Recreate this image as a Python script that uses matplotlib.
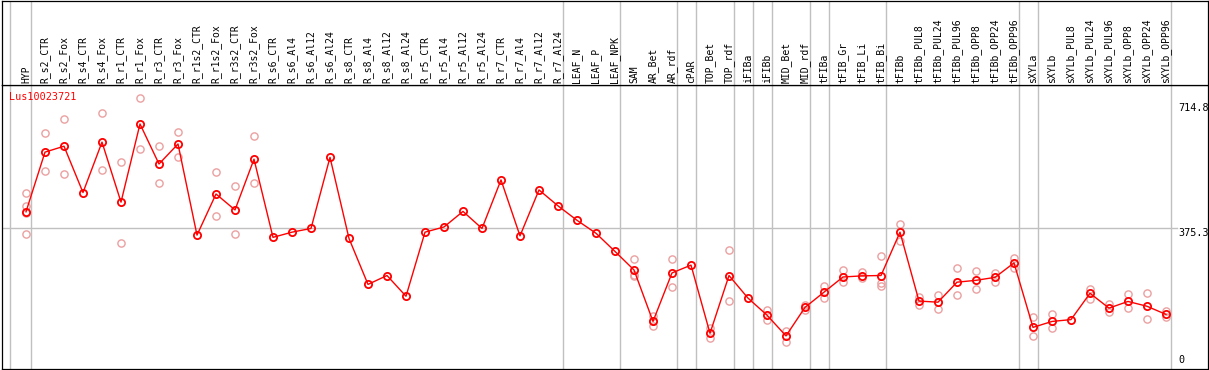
import matplotlib.pyplot as plt

# Sample names (top labels), one column each.
categories = [
    "HYP", "R_s2_CTR", "R_s2_Fox", "R_s4_CTR", "R_s4_Fox", "R_r1_CTR", "R_r1_Fox",
    "R_r3_CTR", "R_r3_Fox", "R_r1s2_CTR", "R_r1s2_Fox", "R_r3s2_CTR", "R_r3s2_Fox",
    "R_s6_CTR", "R_s6_Al4", "R_s6_Al12", "R_s6_Al24", "R_s8_CTR", "R_s8_Al4",
    "R_s8_Al12", "R_s8_Al24", "R_r5_CTR", "R_r5_Al4", "R_r5_Al12", "R_r5_Al24",
    "R_r7_CTR", "R_r7_Al4", "R_r7_Al12", "R_r7_Al24", "LEAF_N", "LEAF_P", "LEAF_NPK",
    "SAM", "AR_Bet", "AR_rdf", "cPAR", "TOP_Bet", "TOP_rdf", "iFIBa", "iFIBb",
    "MID_Bet", "MID_rdf", "tFIBa", "tFIB_Gr", "tFIB_Li", "tFIB_Bi", "tFIBb",
    "tFIBb_PUL8", "tFIBb_PUL24", "tFIBb_PUL96", "tFIBb_OPP8", "tFIBb_OPP24",
    "tFIBb_OPP96", "sXYLa", "sXYLb", "sXYLb_PUL8", "sXYLb_PUL24", "sXYLb_PUL96",
    "sXYLb_OPP8", "sXYLb_OPP24", "sXYLb_OPP96",
]

# Mean expression per sample.
means = [
    420, 581, 597, 472, 608, 446, 657, 549, 603, 357, 468, 425, 562,
    351, 365, 375, 567, 348, 224, 248, 192, 365, 379, 421, 375,
    506, 355, 479, 436, 397, 362, 313,
    263, 124, 255, 276, 92, 248, 187, 141, 85, 162, 203, 244, 247, 248, 365,
    179, 176, 230, 235, 243, 282, 108, 124, 129, 200, 160, 178, 165, 143,
]

# Individual replicates (empty where they sit under the mean marker).
reps = [
    [472, 436, 416, 360], [632, 530], [670, 521], [], [687, 532], [554, 335],
    [726, 589], [597, 497], [635, 567], [], [527, 409], [489, 360], [624, 497],
    [], [], [], [], [], [], [], [], [], [], [], [],
    [], [], [], [], [], [], [],
    [292, 250, 247], [140, 112, 124], [292, 216], [], [106, 78], [317, 178], [],
    [154, 128], [98, 69], [168, 156], [220, 187], [262, 231], [257, 242],
    [301, 227, 220], [387, 340],
    [189, 168], [195, 158], [268, 195], [260, 212], [256, 230], [295, 268],
    [135, 85], [144, 106], [], [212, 185], [172, 149], [197, 160], [201, 131], [152, 136],
]

# Grey separators are drawn just after these sample indices.
group_ends = [-1.09, 0, 28, 31, 34, 35, 37, 38, 39, 41, 42, 45, 52, 53, 60]

y_ticks = [0, 375.3, 714.8]
gene = "Lus10023721"

W, H = 1209, 370
fig = plt.figure(figsize=(W / 100, H / 100), dpi=100)

# plot area in pixels
left, right, top, bottom = 1.5, 1207.5, 85, 368.5
ax = fig.add_axes([left / W, (H - bottom) / H, (right - left) / W, (bottom - top) / H])
hd = fig.add_axes([left / W, (H - top) / H, (right - left) / W, (top - 0.5) / H])

xlim = ((left - 26) / 19, (right - 26) / 19)
for a in (ax, hd):
    a.set_xlim(*xlim)
    a.set_xticks([])
    a.set_yticks([])
    for s in a.spines.values():
        s.set_color("black")
        s.set_linewidth(0.9)
    for g in group_ends:
        a.axvline(g + 0.25, color="#c0c0c0", lw=1, zorder=0)
ax.set_ylim(-3.0, 762.2)

ax.axhline(375.3, color="#c0c0c0", lw=1, xmax=(1177 - left) / (right - left), zorder=0)

xs = list(range(len(categories)))
for i, r in enumerate(reps):
    if r:
        ax.plot([i] * len(r), r, "o", ms=5.2, mfc="none", mec="#eaa0a0", mew=1.0, zorder=2)
ax.plot(xs, means, "-", color="red", lw=1.0, zorder=3)
ax.plot(xs, means, "o", ms=5.2, mfc="none", mec="red", mew=1.3, zorder=4)

mono = "DejaVu Sans Mono"
for i, name in enumerate(categories):
    hd.text(i, 0.025, name, rotation=90, ha="center", va="bottom", fontsize=7,
            family=mono, transform=hd.get_xaxis_transform())

ax.text(0.0065, 0.958, gene, color="red", fontsize=7.3, family=mono,
        ha="left", va="center", transform=ax.transAxes)

tx = (1178 - 26) / 19
ax.text(tx, y_ticks[2], "714.8", fontsize=7.3, family=mono, ha="left", va="top")
ax.text(tx, y_ticks[1], "375.3", fontsize=7.3, family=mono, ha="left", va="top")
ax.annotate("0", (tx, y_ticks[0]), xytext=(0, 1.7), textcoords="offset points",
            fontsize=7.3, family=mono, ha="left", va="bottom")

fig.savefig("out.png", dpi=100)
